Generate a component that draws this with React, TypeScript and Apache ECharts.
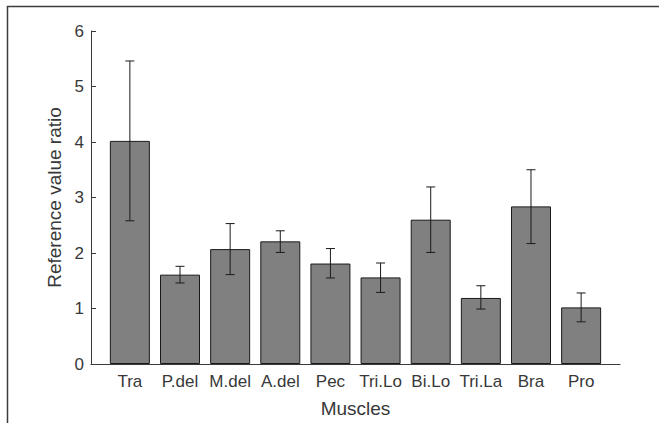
import React, { useEffect, useRef } from "react";
import * as echarts from "echarts";

const categories = ["Tra", "P.del", "M.del", "A.del", "Pec", "Tri.Lo", "Bi.Lo", "Tri.La", "Bra", "Pro"];
const means = [4.02, 1.61, 2.07, 2.21, 1.81, 1.56, 2.6, 1.19, 2.84, 1.02];
const errLow = [2.58, 1.46, 1.61, 2.01, 1.55, 1.29, 2.01, 0.99, 2.17, 0.76];
const errHigh = [5.46, 1.76, 2.53, 2.4, 2.08, 1.82, 3.19, 1.41, 3.5, 1.28];
const yTicks = [0, 1, 2, 3, 4, 5, 6];

const FONT = "'Liberation Sans', Arial, sans-serif";
const TXT = "#383838";
const AX = "#3a3a3a";

export default function App() {
  const ref = useRef<HTMLDivElement>(null);
  useEffect(() => {
    if (!ref.current) return;
    const chart = echarts.init(ref.current, undefined, { renderer: "svg" });
    const positions = categories.map((_, i) => i + 1);
    chart.setOption({
      animation: false,
      backgroundColor: "#ffffff",
      textStyle: { fontFamily: FONT },
      grid: { left: 91, right: 39, top: 31, bottom: 57, containLabel: false },
      xAxis: {
        type: "value",
        min: 0.225,
        max: 10.775,
        name: "Muscles",
        nameLocation: "middle",
        nameGap: 35,
        nameTextStyle: { fontSize: 19, color: TXT, fontFamily: FONT },
        splitLine: { show: false },
        axisLine: { show: true, onZero: false, lineStyle: { color: AX, width: 1 } },
        axisTick: { show: true, inside: true, length: 5, customValues: positions, lineStyle: { color: AX } },
        axisLabel: {
          show: true,
          customValues: positions,
          margin: 9,
          fontSize: 17,
          color: TXT,
          fontFamily: FONT,
          formatter: (v: number) => categories[Math.round(v) - 1] ?? "",
        },
      },
      yAxis: {
        type: "value",
        min: 0,
        max: 6,
        interval: 1,
        name: "Reference value ratio",
        nameLocation: "middle",
        nameGap: 25,
        nameTextStyle: { fontSize: 19, color: TXT, fontFamily: FONT },
        splitLine: { show: false },
        axisLine: { show: true, lineStyle: { color: AX, width: 1 } },
        axisTick: { show: true, inside: true, length: 5, customValues: yTicks, lineStyle: { color: AX } },
        axisLabel: { show: true, customValues: yTicks, margin: 7, fontSize: 17, color: TXT, fontFamily: FONT },
      },
      graphic: [
        {
          type: "rect",
          silent: true,
          shape: { x: 7.5, y: 6.5, width: 900, height: 700 },
          style: { fill: "none", stroke: "#3c3c3c", lineWidth: 1.5 },
          z: 100,
        },
      ],
      series: [
        {
          type: "bar",
          barWidth: 40,
          data: means.map((m, i) => [i + 1, m]),
          itemStyle: { color: "#808080", borderColor: "#1a1a1a", borderWidth: 1 },
          z: 2,
        },
        {
          type: "custom",
          z: 5,
          data: categories.map((_, i) => [i + 1, errLow[i], errHigh[i]]),
          renderItem: (params: any, api: any) => {
            const x = api.value(0);
            const top = api.coord([x, api.value(2)]);
            const bot = api.coord([x, api.value(1)]);
            const hw = 4.5;
            const style = { stroke: "#1a1a1a", lineWidth: 1 };
            return {
              type: "group",
              children: [
                { type: "line", shape: { x1: top[0], y1: top[1], x2: bot[0], y2: bot[1] }, style },
                { type: "line", shape: { x1: top[0] - hw, y1: top[1], x2: top[0] + hw, y2: top[1] }, style },
                { type: "line", shape: { x1: bot[0] - hw, y1: bot[1], x2: bot[0] + hw, y2: bot[1] }, style },
              ],
            };
          },
        },
      ],
    });
    return () => chart.dispose();
  }, []);
  return <div ref={ref} style={{ position: "fixed", left: 0, top: 0, width: 659, height: 423 }} />;
}
